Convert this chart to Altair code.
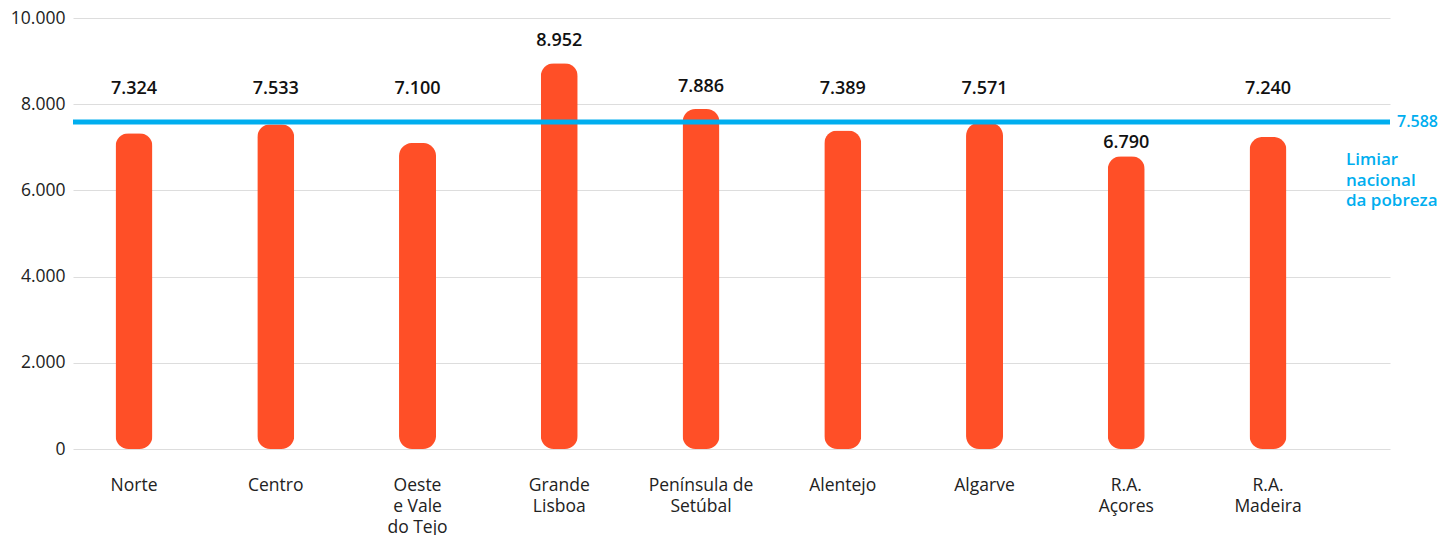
import altair as alt
import pandas as pd

categories = ["Norte", "Centro", "Oeste\ne Vale\ndo Tejo", "Grande\nLisboa",
              "Península de\nSetúbal", "Alentejo", "Algarve", "R.A.\nAçores", "R.A.\nMadeira"]
values = [7324, 7533, 7100, 8952, 7886, 7389, 7571, 6790, 7240]
threshold = 7588
threshold_label = "7.588"
threshold_caption = ["Limiar", "nacional", "da pobreza"]
y_ticks = [0, 2000, 4000, 6000, 8000, 10000]

def fmt(v):
    return f"{v:,}".replace(",", ".")

def label_pos(v):
    if v >= 7840:
        return v + 510
    if v >= 7000:
        return 8350
    return v + 310

df = pd.DataFrame({
    "cat": categories,
    "value": values,
    "label": [fmt(v) for v in values],
    "label_y": [label_pos(v) for v in values],
})

FONT = "Open Sans"
BLUE = "#00AEEF"
ORANGE = "#FF4F27"
W, H = 1317, 431

x = alt.X("cat:N", sort=categories, title=None,
          scale=alt.Scale(paddingInner=0.139, paddingOuter=0.215, align=0),
          axis=alt.Axis(labelAngle=0, labelExpr="split(datum.label, '\\n')",
                        labelFontSize=17.5, labelColor="#222", labelPadding=36,
                        labelLineHeight=21, labelBaseline="middle",
                        ticks=False, domain=False, grid=False, labelFont=FONT))
yscale = alt.Scale(domain=[0, 10000], nice=False)

base = alt.Chart(df)

bars = base.mark_bar(size=37, cornerRadius=13, color=ORANGE).encode(
    x=x,
    y=alt.Y("value:Q", scale=yscale, title=None,
            axis=alt.Axis(values=y_ticks, labelExpr="replace(format(datum.value, ','), ',', '.')",
                          labelFontSize=17.5, labelColor="#222", labelPadding=8,
                          ticks=False, domain=False, gridColor="#dddddd", gridWidth=1,
                          labelFont=FONT)),
)

labels = base.mark_text(fontSize=18, fontWeight=600, color="#111", font=FONT,
                        baseline="middle").encode(
    x=alt.X("cat:N", sort=categories),
    y=alt.Y("label_y:Q", scale=yscale),
    text="label:N",
)

tdf = pd.DataFrame({"t": [threshold], "lab": [threshold_label], "cap": ["\n".join(threshold_caption)]})
rule = alt.Chart(tdf).mark_rule(color=BLUE, strokeWidth=5).encode(
    y=alt.Y("t:Q", scale=yscale), x=alt.value(0), x2=alt.value(W))
tlab = alt.Chart(tdf).mark_text(color=BLUE, fontSize=16, fontWeight=600, font=FONT,
                                align="left", baseline="middle").encode(
    y=alt.Y("t:Q", scale=yscale), x=alt.value(W + 7), text="lab:N")
tcap = alt.Chart(tdf).mark_text(color=BLUE, fontSize=17, fontWeight=600, font=FONT,
                                align="left", baseline="middle", lineBreak="\n",
                                lineHeight=20.5).encode(
    y=alt.value(142), x=alt.value(1273), text="cap:N")

chart = alt.layer(bars, labels, rule, tlab, tcap).properties(
    width=W, height=H,
    autosize=alt.AutoSizeParams(type="none"),
    padding={"left": 65, "top": 10, "right": 50, "bottom": 86},
).configure(font=FONT).configure_view(stroke=None)

chart.save("out.html", embed_options={"renderer": "svg", "actions": False})
